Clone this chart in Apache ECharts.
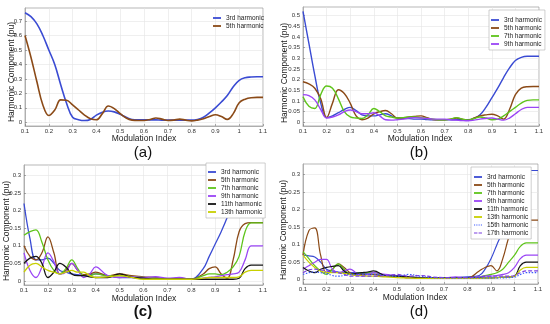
<!DOCTYPE html>
<html><head><meta charset="utf-8">
<script src="https://cdn.jsdelivr.net/npm/echarts@6/dist/echarts.min.js"></script>
<style>html,body{margin:0;padding:0;background:#fff}#c{width:550px;height:324px}</style>
</head><body><div id="c"></div>
<script>
// ---------- data ----------
const X_AB = [0.1,0.125,0.15,0.175,0.2,0.225,0.25,0.275,0.3,0.325,0.35,0.375,0.4,0.425,0.45,0.475,0.5,0.525,0.55,0.575,0.6,0.625,0.65,0.675,0.7,0.725,0.75,0.775,0.8,0.825,0.85,0.875,0.9,0.925,0.95,0.975,1.0,1.025,1.05,1.075,1.1];
const A3 = [0.757,0.73,0.68,0.6,0.5,0.4,0.26,0.13,0.035,0.018,0.012,0.02,0.05,0.07,0.078,0.072,0.055,0.035,0.02,0.017,0.017,0.017,0.017,0.015,0.015,0.015,0.015,0.015,0.015,0.02,0.035,0.065,0.1,0.14,0.185,0.245,0.29,0.308,0.313,0.315,0.315];
const A5 = [0.6,0.45,0.28,0.12,0.047,0.085,0.155,0.152,0.12,0.085,0.05,0.025,0.018,0.06,0.113,0.095,0.06,0.03,0.015,0.012,0.013,0.02,0.03,0.022,0.012,0.015,0.022,0.015,0.01,0.015,0.025,0.04,0.052,0.04,0.02,0.06,0.135,0.16,0.17,0.172,0.172];
const B3 = [0.52,0.37,0.22,0.09,0.022,0.03,0.045,0.06,0.07,0.055,0.035,0.03,0.03,0.035,0.04,0.03,0.02,0.018,0.017,0.015,0.015,0.013,0.012,0.012,0.012,0.012,0.012,0.012,0.012,0.018,0.035,0.07,0.115,0.16,0.21,0.255,0.29,0.305,0.31,0.31,0.31];
const B5 = [0.19,0.18,0.16,0.11,0.022,0.09,0.153,0.135,0.09,0.03,0.012,0.02,0.04,0.05,0.055,0.04,0.02,0.02,0.025,0.028,0.03,0.022,0.013,0.012,0.012,0.015,0.02,0.015,0.01,0.02,0.03,0.035,0.038,0.03,0.015,0.06,0.13,0.16,0.167,0.168,0.168];
const B7 = [0.12,0.075,0.065,0.13,0.17,0.16,0.11,0.05,0.025,0.02,0.018,0.035,0.065,0.05,0.03,0.025,0.02,0.022,0.025,0.025,0.022,0.018,0.015,0.012,0.012,0.015,0.022,0.015,0.01,0.018,0.025,0.02,0.012,0.015,0.03,0.05,0.07,0.09,0.103,0.105,0.105];
const B9 = [0.13,0.125,0.105,0.06,0.02,0.025,0.035,0.05,0.058,0.05,0.04,0.04,0.045,0.03,0.012,0.01,0.012,0.015,0.02,0.022,0.02,0.018,0.015,0.015,0.015,0.012,0.01,0.008,0.007,0.01,0.015,0.018,0.02,0.015,0.01,0.02,0.04,0.06,0.07,0.07,0.07];

const X_CD = [0.1,0.125,0.15,0.175,0.2,0.225,0.25,0.275,0.3,0.325,0.35,0.375,0.4,0.45,0.5,0.55,0.6,0.65,0.7,0.75,0.8,0.85,0.875,0.9,0.925,0.95,0.975,1.0,1.025,1.05,1.075,1.1];
const C3  = [0.22,0.12,0.06,0.06,0.065,0.05,0.03,0.025,0.02,0.018,0.015,0.018,0.02,0.015,0.01,0.01,0.008,0.008,0.005,0.005,0.005,0.035,0.07,0.105,0.14,0.18,0.23,0.28,0.305,0.312,0.312,0.312];
const C5  = [0.1,0.07,0.06,0.08,0.125,0.08,0.02,0.03,0.05,0.03,0.018,0.02,0.025,0.015,0.02,0.015,0.012,0.01,0.005,0.008,0.005,0.02,0.035,0.04,0.02,0.008,0.06,0.14,0.163,0.166,0.166,0.166];
const C7  = [0.13,0.14,0.145,0.11,0.06,0.03,0.02,0.035,0.06,0.035,0.015,0.015,0.02,0.015,0.015,0.012,0.01,0.008,0.005,0.005,0.005,0.015,0.02,0.02,0.018,0.025,0.04,0.07,0.14,0.165,0.165,0.165];
const C9  = [0.08,0.03,0.01,0.04,0.08,0.055,0.02,0.025,0.05,0.03,0.01,0.02,0.04,0.015,0.01,0.012,0.01,0.012,0.008,0.01,0.005,0.008,0.01,0.012,0.015,0.018,0.02,0.025,0.06,0.1,0.1,0.1];
const C11 = [0.05,0.065,0.07,0.05,0.01,0.025,0.05,0.04,0.02,0.015,0.015,0.012,0.01,0.01,0.02,0.01,0.008,0.005,0.005,0.005,0.005,0.005,0.005,0.005,0.005,0.005,0.005,0.008,0.035,0.045,0.045,0.045];
const C13 = [0.025,0.045,0.05,0.04,0.03,0.025,0.02,0.025,0.03,0.025,0.025,0.015,0.01,0.012,0.015,0.01,0.005,0.005,0.005,0.005,0.005,0.008,0.01,0.01,0.01,0.01,0.01,0.012,0.025,0.03,0.03,0.03];

const D3  = [0.07,0.068,0.065,0.05,0.03,0.025,0.022,0.02,0.02,0.02,0.018,0.017,0.015,0.012,0.01,0.008,0.006,0.005,0.005,0.006,0.008,0.012,0.03,0.06,0.1,0.14,0.2,0.27,0.305,0.312,0.312,0.312];
const D5  = [0.07,0.14,0.148,0.07,0.02,0.03,0.045,0.035,0.02,0.015,0.015,0.015,0.015,0.01,0.01,0.005,0.005,0.005,0.005,0.005,0.005,0.025,0.035,0.04,0.025,0.06,0.12,0.165,0.17,0.17,0.17,0.17];
const D7  = [0.08,0.06,0.04,0.025,0.015,0.03,0.045,0.03,0.015,0.018,0.02,0.02,0.02,0.012,0.01,0.008,0.005,0.005,0.005,0.005,0.005,0.008,0.012,0.015,0.02,0.03,0.05,0.07,0.095,0.105,0.105,0.105];
const D9  = [0.03,0.04,0.05,0.058,0.058,0.03,0.02,0.025,0.03,0.02,0.01,0.015,0.02,0.015,0.012,0.008,0.005,0.005,0.005,0.008,0.005,0.008,0.01,0.01,0.012,0.015,0.02,0.035,0.06,0.07,0.07,0.07];
const D11 = [0.035,0.025,0.02,0.03,0.035,0.038,0.04,0.025,0.015,0.018,0.02,0.022,0.025,0.012,0.01,0.008,0.005,0.005,0.005,0.005,0.005,0.005,0.005,0.005,0.006,0.007,0.008,0.01,0.04,0.05,0.05,0.05];
const D13 = [0.07,0.05,0.035,0.025,0.02,0.02,0.02,0.018,0.015,0.012,0.012,0.01,0.01,0.008,0.006,0.005,0.004,0.004,0.004,0.004,0.004,0.004,0.005,0.005,0.006,0.007,0.008,0.01,0.028,0.035,0.035,0.035];
const D15 = [0.015,0.02,0.022,0.02,0.018,0.012,0.01,0.012,0.015,0.015,0.015,0.015,0.015,0.012,0.01,0.015,0.01,0.006,0.005,0.005,0.005,0.005,0.005,0.005,0.005,0.005,0.006,0.007,0.015,0.02,0.02,0.02];
const D17 = [0.02,0.028,0.03,0.028,0.025,0.022,0.02,0.015,0.01,0.01,0.01,0.01,0.01,0.012,0.015,0.01,0.012,0.008,0.006,0.006,0.006,0.008,0.01,0.01,0.01,0.01,0.01,0.012,0.02,0.025,0.025,0.025];

const NAMES = ['3rd harmonic','5th harmonic','7th harmonic','9th harmonic','11th harmonic','13th harmonic','15th harmonic','17th harmonic'];
const X_TICKS = [0.1,0.2,0.3,0.4,0.5,0.6,0.7,0.8,0.9,1,1.1];
const Y_TICKS_A = [0,0.1,0.2,0.3,0.4,0.5,0.6,0.7];
const Y_TICKS_B = [0,0.05,0.1,0.15,0.2,0.25,0.3,0.35,0.4,0.45,0.5];
const Y_TICKS_CD = [0,0.05,0.1,0.15,0.2,0.25,0.3];
const X_TITLE = 'Modulation Index';
const Y_TITLE = 'Harmonic Component (pu)';
const CAPTIONS = ['(a)','(b)','(c)','(d)'];

// ---------- styling ----------
const FONT = 'Liberation Sans, Arial, Helvetica, sans-serif';
const COLORS = ['#3a4bd3','#8b4a17','#5ec41a','#9a45f5','#141414','#c8d000','#3d5afe','#7a3ee0'];
const DASH = ['solid','solid','solid','solid','solid','solid',[1.5,1.5],[4,2]];
const ICONS = [
  'rect','rect','rect','rect','rect','rect',
  'path://M0,0h1v1h-1zM2,0h1v1h-1zM4,0h1v1h-1zM6,0h1v1h-1z',
  'path://M0,0h3v1h-3zM4,0h3v1h-3z'
];

const grids = [
  {left:25, top:8, width:238, height:118},
  {left:303, top:7, width:236, height:119},
  {left:24, top:165, width:239, height:120},
  {left:303, top:164, width:235, height:120}
];
const yRanges = [[-0.0255,0.79],[-0.0174,0.541],[-0.01135,0.3293],[-0.0123,0.3306]];
const yTicks = [Y_TICKS_A, Y_TICKS_B, Y_TICKS_CD, Y_TICKS_CD];

const xAxis = grids.map((g,i)=>({
  gridIndex:i, type:'value', min:0.1, max:1.1,
  axisLine:{show:true,onZero:false,lineStyle:{color:'#9a9a9a',width:0.7}},
  axisTick:{show:true,inside:true,length:2,customValues:X_TICKS,lineStyle:{color:'#777',width:0.6}},
  axisLabel:{customValues:X_TICKS,fontSize:6,color:'#333',margin:2.5,fontFamily:FONT,
    formatter:v=>String(Math.round(v*10)/10)},
  splitLine:{show:true,lineStyle:{color:'#e4e4e4',width:0.6}}
}));
const yAxis = grids.map((g,i)=>({
  gridIndex:i, type:'value', min:yRanges[i][0], max:yRanges[i][1],
  axisLine:{show:true,onZero:false,lineStyle:{color:'#9a9a9a',width:0.7}},
  axisTick:{show:true,inside:true,length:2,customValues:yTicks[i],lineStyle:{color:'#777',width:0.6}},
  axisLabel:{customValues:yTicks[i],fontSize:6,color:'#333',margin:3,fontFamily:FONT,
    formatter:v=>String(Math.round(v*1000)/1000)},
  splitLine:{show:true,lineStyle:{color:'#e4e4e4',width:0.6}}
}));

function mk(idx, xs, ys, k, w){
  return {
    type:'line', name:NAMES[k], xAxisIndex:idx, yAxisIndex:idx,
    data: xs.map((x,j)=>[x, ys[j]]),
    smooth:0.4, symbol:'none', animation:false,
    lineStyle:{color:COLORS[k], width:w, type:DASH[k]},
    itemStyle:{color:COLORS[k]}
  };
}
const series = [
  mk(0,X_AB,A3,0,1.6), mk(0,X_AB,A5,1,1.6),
  mk(1,X_AB,B3,0,1.4), mk(1,X_AB,B5,1,1.4), mk(1,X_AB,B7,2,1.4), mk(1,X_AB,B9,3,1.4),
  mk(2,X_CD,C3,0,1.3), mk(2,X_CD,C5,1,1.3), mk(2,X_CD,C7,2,1.3), mk(2,X_CD,C9,3,1.3), mk(2,X_CD,C11,4,1.3), mk(2,X_CD,C13,5,1.3),
  mk(3,X_CD,D3,0,1.2), mk(3,X_CD,D5,1,1.2), mk(3,X_CD,D7,2,1.2), mk(3,X_CD,D9,3,1.2), mk(3,X_CD,D11,4,1.2), mk(3,X_CD,D13,5,1.2), mk(3,X_CD,D15,6,1.2), mk(3,X_CD,D17,7,1.2)
];

function lg(n, left, top, pad, border){
  return {
    orient:'vertical', left:left, top:top,
    data:NAMES.slice(0,n).map((nm,k)=>({name:nm, icon:ICONS[k], itemStyle:{color:COLORS[k]}})),
    itemWidth:8, itemHeight:1.8, itemGap:0, padding:pad,
    backgroundColor: border ? '#fff' : 'rgba(0,0,0,0)',
    borderColor: border ? '#b0b0b0' : 'transparent', borderWidth: border ? 0.6 : 0,
    textStyle:{fontSize:6.5, lineHeight:8, color:'#222', fontFamily:FONT},
    selectedMode:false
  };
}
const legend = [
  lg(2, 213, 14, [0,0,0,0], false),
  lg(4, 489, 10, [6,3,2,2], true),
  lg(6, 206, 163, [5,3,2,2], true),
  lg(8, 471, 167, [6,3,2,3], true)
];

const xTitlePos = [[144,139],[420,139],[144,298.5],[415,298]];
const yTitlePos = [[12,72],[285,73],[7,231],[284,230]];
const capPos = [[143,153],[419,153],[143,312],[419,312]];
const graphic = [];
for (let i=0;i<4;i++){
  graphic.push({type:'text', x:xTitlePos[i][0], y:xTitlePos[i][1],
    style:{text:X_TITLE, fontSize:8.5, fill:'#222', fontFamily:FONT, textAlign:'center', textVerticalAlign:'middle'}});
  graphic.push({type:'text', x:yTitlePos[i][0], y:yTitlePos[i][1], rotation:Math.PI/2,
    style:{text:Y_TITLE, fontSize:8.5, fill:'#222', fontFamily:FONT, textAlign:'center', textVerticalAlign:'middle'}});
  graphic.push({type:'text', x:capPos[i][0], y:capPos[i][1],
    style:{text:CAPTIONS[i], fontSize:15, fill:'#111', fontFamily:FONT, fontWeight: i===2 ? 'bold' : 'normal', textAlign:'center', textVerticalAlign:'middle'}});
}

const chart = echarts.init(document.getElementById('c'), null, {renderer:'canvas'});
chart.setOption({
  animation:false,
  backgroundColor:'#fff',
  grid: grids.map(g=>Object.assign({show:true, borderColor:'#9a9a9a', borderWidth:0.7, containLabel:false}, g)),
  xAxis, yAxis, series, legend, graphic
});
</script>
</body></html>
